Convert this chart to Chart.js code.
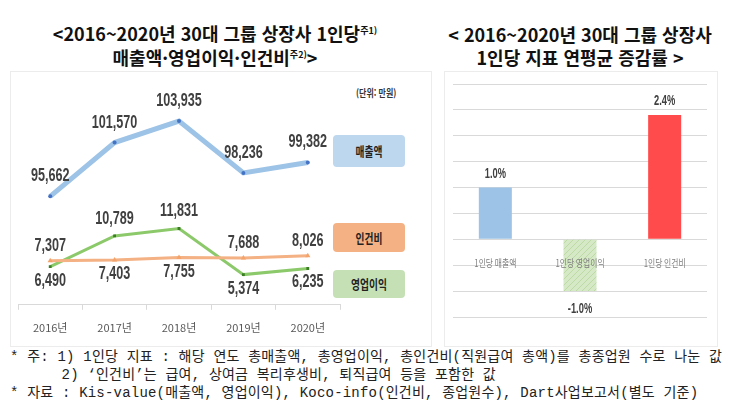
<!DOCTYPE html>
<html lang="ko">
<head>
<meta charset="utf-8">
<script src="https://cdn.jsdelivr.net/npm/chart.js@4.4.1/dist/chart.umd.min.js"></script>
<style>
  html, body { margin: 0; padding: 0; background: #fff; }
  body { width: 730px; height: 418px; position: relative; overflow: hidden;
         font-family: "Noto Sans CJK KR", sans-serif; color: #111; }
  .panel { position: absolute; border: 1px solid #ececec; background: #fff; }
  .title { position: absolute; text-align: center; font-weight: bold; font-size: 18px;
           line-height: 24px; white-space: nowrap; color: #111; }
  .title sup { font-size: 9px; vertical-align: 7px; line-height: 0; }
  .chart { position: absolute; }
  .unit { position: absolute; left: 356px; top: 85px; font-size: 10px; font-weight: bold;
          color: #333; transform: scaleX(0.8); transform-origin: left; white-space: nowrap; }
  .tag { position: absolute; left: 333px; width: 72px; border-radius: 4px; text-align: center;
         font-weight: bold; font-size: 13px; color: #222; }
  .tag span { display: inline-block; transform: scaleX(0.75); }
  .note { position: absolute; left: 10px; top: 348px; font-size: 14px; line-height: 18px;
          letter-spacing: 0.2px;
          font-family: "Liberation Mono", "Noto Sans Mono CJK KR", "Noto Sans CJK KR", monospace;
          color: #222; white-space: pre; }
</style>
</head>
<body>
<div class="panel" style="left:10px; top:71px; width:420px; height:274px;"></div>
<div class="panel" style="left:444px; top:71px; width:272px; height:274px;"></div>

<div class="title" style="left:0; width:430px; top:21px;">&lt;2016~2020년 30대 그룹 상장사 1인당<sup>주1)</sup><br>매출액·영업이익·인건비<sup>주2)</sup>&gt;</div>
<div class="title" style="left:440px; width:280px; top:23px; line-height:23px;">&lt; 2016~2020년 30대 그룹 상장사<br>1인당 지표 연평균 증감률 &gt;</div>

<div class="unit">(단위: 만원)</div>
<div id="tags"></div>

<div class="chart" style="left:12px; top:80px; width:400px; height:265px;"><canvas id="chart-trend"></canvas></div>
<div class="chart" style="left:445px; top:74px; width:270px; height:253px;"><canvas id="chart-rate"></canvas></div>

<div class="note">* 주: 1) 1인당 지표 : 해당 연도 총매출액, 총영업이익, 총인건비(직원급여 총액)를 총종업원 수로 나눈 값
      2) ‘인건비’는 급여, 상여금 복리후생비, 퇴직급여 등을 포함한 값
* 자료 : Kis-value(매출액, 영업이익), Koco-info(인건비, 종업원수), Dart사업보고서(별도 기준)</div>

<script>
  const years = ["2016년", "2017년", "2018년", "2019년", "2020년"];
  const revenue = [95662, 101570, 103935, 98236, 99382];
  const laborCost = [7307, 7403, 7755, 7688, 8026];
  const operatingProfit = [6490, 10789, 11831, 5374, 6235];
  const seriesNames = ["매출액", "인건비", "영업이익"];

  const rateLabels = ["1인당 매출액", "1인당 영업이익", "1인당 인건비"];
  const rateValues = [1.0, -1.0, 2.4];

  const TAG_COLORS = ["#bdd7ee", "#f4b183", "#c5e0b4"];
  const TAG_TOPS = [135, 223, 270];
  const TAG_HEIGHTS = [32, 29, 28];

  // which side of the point each value label sits on
  const revenueSide = ["up", "up", "up", "up", "up"];
  const laborSide = ["up", "down", "down", "up", "up"];
  const profitSide = ["down", "up", "up", "down", "down"];

  function condensed(ctx, text, x, y, sx) {
    ctx.save();
    ctx.translate(x, y);
    ctx.scale(sx, 1);
    ctx.fillText(text, 0, 0);
    ctx.restore();
  }

  // legend tags on the right of the line chart
  var tags = document.getElementById("tags");
  seriesNames.forEach(function (name, i) {
    var d = document.createElement("div");
    d.className = "tag";
    d.style.top = TAG_TOPS[i] + "px";
    d.style.height = TAG_HEIGHTS[i] + "px";
    d.style.lineHeight = TAG_HEIGHTS[i] + "px";
    d.style.background = TAG_COLORS[i];
    var s = document.createElement("span");
    s.textContent = name;
    d.appendChild(s);
    tags.appendChild(d);
  });

  const lineLabels = {
    id: "lineLabels",
    afterDatasetsDraw(chart) {
      const ctx = chart.ctx;
      ctx.save();
      ctx.fillStyle = "#404040";
      ctx.font = "bold 18px 'Liberation Sans', Arial, sans-serif";
      ctx.textAlign = "center";
      ctx.textBaseline = "middle";
      chart.data.datasets.forEach(function (ds, i) {
        chart.getDatasetMeta(i).data.forEach(function (pt, j) {
          const dy = ds.labelSide[j] === "up" ? -ds.labelGap : 14;
          condensed(ctx, ds.data[j].toLocaleString("en-US"), pt.x, pt.y + dy, 0.7);
        });
      });
      ctx.restore();
    }
  };

  new Chart(document.getElementById("chart-trend"), {
    type: "line",
    data: {
      labels: years,
      datasets: [
        {
          label: seriesNames[0], data: revenue, yAxisID: "yTop",
          borderColor: "#9dc3e6", borderWidth: 5,
          pointRadius: 2, pointBorderWidth: 0, pointBackgroundColor: "#4472c4",
          labelSide: revenueSide, labelGap: 20
        },
        {
          label: seriesNames[1], data: laborCost, yAxisID: "yLow",
          borderColor: "#f4b183", borderWidth: 3, pointStyle: "triangle",
          pointRadius: 3, pointBorderWidth: 0, pointBackgroundColor: "#f4a46b",
          labelSide: laborSide, labelGap: 15
        },
        {
          label: seriesNames[2], data: operatingProfit, yAxisID: "yLow",
          borderColor: "#8cc96b", borderWidth: 3, pointStyle: "rect",
          pointRadius: 2, pointBorderWidth: 0, pointBackgroundColor: "#3a7d22",
          labelSide: profitSide, labelGap: 17
        }
      ]
    },
    options: {
      responsive: true,
      maintainAspectRatio: false,
      animation: false,
      layout: { padding: { left: 6, right: 72, top: 0, bottom: 0 } },
      plugins: { legend: { display: false }, tooltip: { enabled: false } },
      scales: {
        x: {
          offset: true,
          grid: { offset: true, drawOnChartArea: false, drawTicks: true, tickLength: 5, color: "#d9d9d9" },
          border: { color: "#d9d9d9" },
          ticks: { color: "#595959", padding: 11, font: { size: 11, family: "'Noto Sans CJK KR', sans-serif" } }
        },
        yTop: { display: false, min: 83750, max: 108000 },
        yLow: { display: false, min: 1150, max: 32050 }
      }
    },
    plugins: [lineLabels]
  });

  function hatch() {
    const c = document.createElement("canvas");
    c.width = 6;
    c.height = 6;
    const g = c.getContext("2d");
    g.fillStyle = "#d6e9c6";
    g.fillRect(0, 0, 6, 6);
    g.strokeStyle = "#bddaa4";
    g.lineWidth = 1;
    g.beginPath();
    g.moveTo(0, 6);
    g.lineTo(6, 0);
    g.stroke();
    return g.createPattern(c, "repeat");
  }

  const barLabels = {
    id: "barLabels",
    afterDatasetsDraw(chart) {
      const ctx = chart.ctx;
      const xs = chart.scales.x;
      const ys = chart.scales.y;
      ctx.save();
      ctx.textAlign = "center";
      ctx.textBaseline = "middle";
      ctx.fillStyle = "#7f7f7f";
      ctx.font = "10px 'Noto Sans CJK KR', sans-serif";
      rateLabels.forEach(function (name, i) {
        condensed(ctx, name, xs.getPixelForValue(i), ys.getPixelForValue(0) + 24, 0.78);
      });
      ctx.fillStyle = "#404040";
      ctx.font = "bold 15px 'Liberation Sans', Arial, sans-serif";
      chart.getDatasetMeta(0).data.forEach(function (bar, i) {
        const v = rateValues[i];
        const y = v >= 0 ? bar.y - 14 : bar.y + 18;
        condensed(ctx, v.toFixed(1) + "%", bar.x, y, 0.62);
      });
      ctx.restore();
    }
  };

  new Chart(document.getElementById("chart-rate"), {
    type: "bar",
    data: {
      labels: rateLabels,
      datasets: [{
        data: rateValues,
        backgroundColor: ["#9dc3e6", hatch(), "#ff4b4b"],
        borderWidth: 0,
        barPercentage: 0.39,
        categoryPercentage: 1
      }]
    },
    options: {
      responsive: true,
      maintainAspectRatio: false,
      animation: false,
      layout: { padding: { left: 8, right: 8, top: 10, bottom: 10 } },
      plugins: { legend: { display: false }, tooltip: { enabled: false } },
      scales: {
        x: { display: false },
        y: {
          min: -1.5, max: 3.0,
          ticks: { display: false, stepSize: 0.5 },
          grid: { color: "#d9d9d9", drawTicks: false },
          border: { display: false }
        }
      }
    },
    plugins: [barLabels]
  });
</script>
</body>
</html>
